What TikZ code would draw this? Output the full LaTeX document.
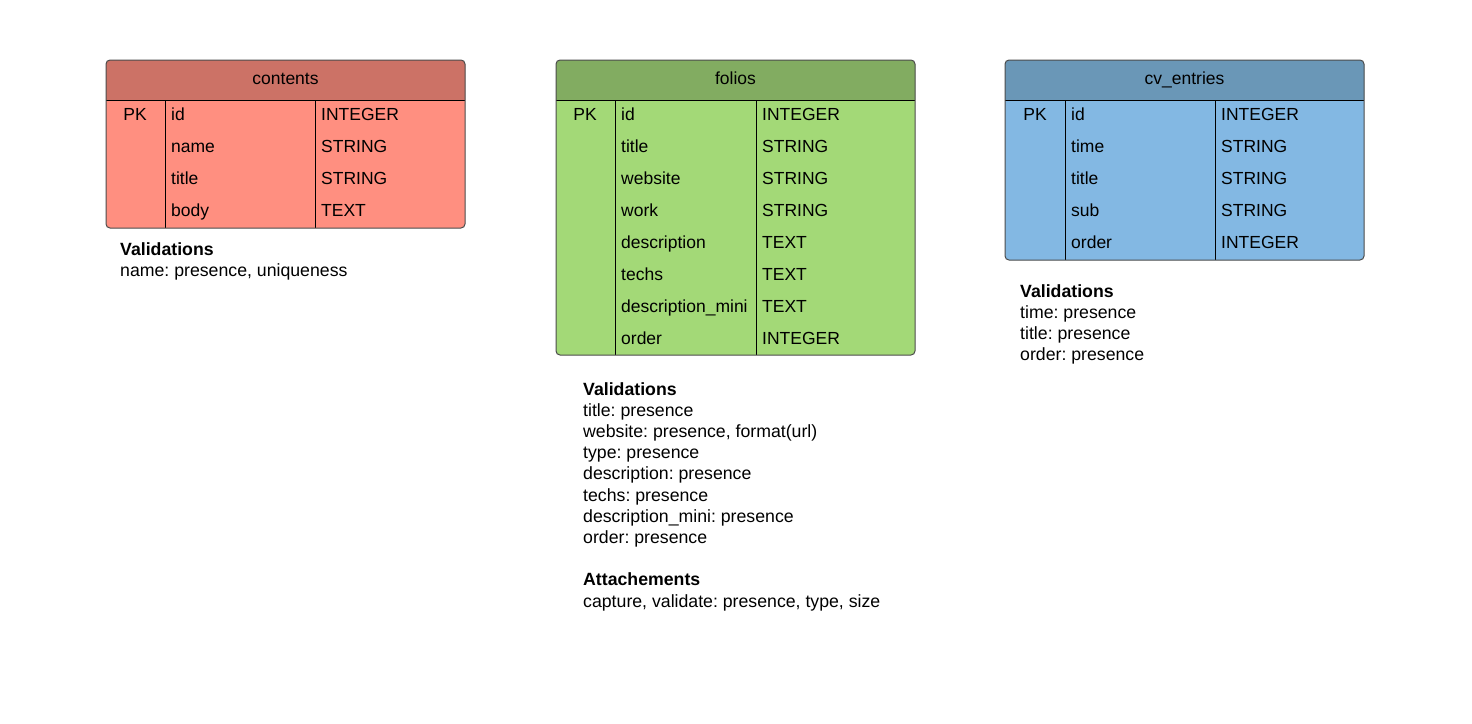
\documentclass[tikz,border=0pt]{standalone}
\usepackage{fontspec}
\setmainfont{Liberation Sans}
\usetikzlibrary{positioning}
\frenchspacing

\definecolor{redhead}{HTML}{CC7266}
\definecolor{redbody}{HTML}{FF8F80}
\definecolor{greenhead}{HTML}{82AC61}
\definecolor{greenbody}{HTML}{A3D977}
\definecolor{bluehead}{HTML}{6A97B7}
\definecolor{bluebody}{HTML}{83B8E3}

\newcommand{\tblfont}{\fontsize{17.5}{21}\selectfont}

\tikzset{
  tblhead/.style={anchor=base, inner sep=0pt, font=\tblfont},
  cell/.style={anchor=base west, inner sep=0pt, font=\tblfont},
  pkcell/.style={anchor=base, inner sep=0pt, font=\tblfont},
  notes/.style={anchor=north west, inner sep=0pt, align=left, font=\fontsize{17.7}{21.2}\selectfont},
  frame/.style={draw=black!70, line width=1pt, rounded corners=4pt},
  rule/.style={draw=black, line width=1pt},
}

\begin{document}
\begin{tikzpicture}[x=1pt,y=-1pt]
\useasboundingbox[fill=white] (0,0) rectangle (1472,723);

% contents
\fill[redbody, rounded corners=4pt] (106,60) rectangle (465,228);
\fill[redhead] (106,100) [rounded corners=4pt] -- (106,60) -- (465,60) [sharp corners] -- (465,100) -- cycle;
\draw[rule] (106,100) -- (465,100) (165,100) -- (165,228) (315,100) -- (315,228);
\draw[frame] (106,60) rectangle (465,228);
\node[tblhead] (contents) at (285.5,84) {contents};
\node[pkcell] (contents-pk) at (135,120) {PK};
\foreach \f/\t [count=\i] in {id/INTEGER, name/STRING, title/STRING, body/TEXT}
{
  \node[cell] (contents-f\i) at (171,{88+32*\i}) {\f};
  \node[cell] (contents-t\i) at (321,{88+32*\i}) {\t};
}
\node[notes] (contents-notes) at (120,242) {\textbf{Validations}\\name: presence, uniqueness};

% folios
\fill[greenbody, rounded corners=4pt] (556,60) rectangle (915,355);
\fill[greenhead] (556,100) [rounded corners=4pt] -- (556,60) -- (915,60) [sharp corners] -- (915,100) -- cycle;
\draw[rule] (556,100) -- (915,100) (615,100) -- (615,355) (756,100) -- (756,355);
\draw[frame] (556,60) rectangle (915,355);
\node[tblhead] (folios) at (735.5,84) {folios};
\node[pkcell] (folios-pk) at (585,120) {PK};
\foreach \f/\t [count=\i] in {id/INTEGER, title/STRING, website/STRING, work/STRING,
  description/TEXT, techs/TEXT, description\_mini/TEXT, order/INTEGER}
{
  \node[cell] (folios-f\i) at (621,{88+32*\i}) {\f};
  \node[cell] (folios-t\i) at (762,{88+32*\i}) {\t};
}
\node[notes] (folios-notes) at (583,382) {\textbf{Validations}\\title: presence\\website: presence, format(url)\\type: presence\\description: presence\\techs: presence\\description\_mini: presence\\order: presence\\[21.2pt]\textbf{Attachements}\\capture, validate: presence, type, size};

% cv_entries
\fill[bluebody, rounded corners=4pt] (1005,60) rectangle (1364,260);
\fill[bluehead] (1005,100) [rounded corners=4pt] -- (1005,60) -- (1364,60) [sharp corners] -- (1364,100) -- cycle;
\draw[rule] (1005,100) -- (1364,100) (1065,100) -- (1065,260) (1215,100) -- (1215,260);
\draw[frame] (1005,60) rectangle (1364,260);
\node[tblhead] (cv-entries) at (1184.5,84) {cv\_entries};
\node[pkcell] (cv-entries-pk) at (1035,120) {PK};
\foreach \f/\t [count=\i] in {id/INTEGER, time/STRING, title/STRING, sub/STRING, order/INTEGER}
{
  \node[cell] (cv-entries-f\i) at (1071,{88+32*\i}) {\f};
  \node[cell] (cv-entries-t\i) at (1221,{88+32*\i}) {\t};
}
\node[notes] (cv-entries-notes) at (1020,284) {\textbf{Validations}\\time: presence\\title: presence\\order: presence};
\end{tikzpicture}
\end{document}
